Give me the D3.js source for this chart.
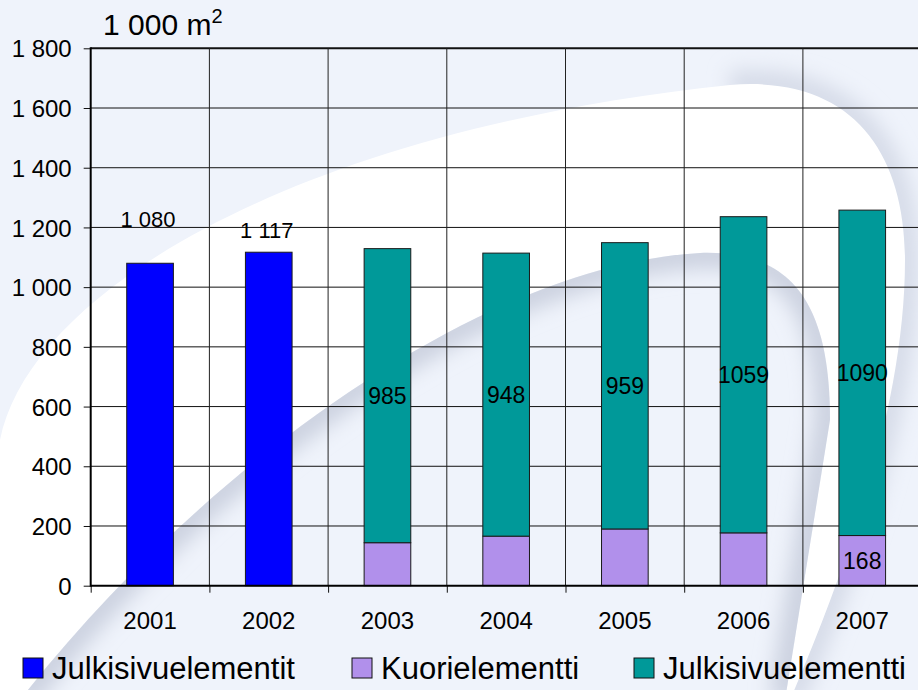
<!DOCTYPE html>
<html>
<head>
<meta charset="utf-8">
<script src="https://cdn.jsdelivr.net/npm/d3@7"></script>
<style>
  html, body { margin: 0; padding: 0; background: #eff3fb; }
  svg { display: block; font-family: "Liberation Sans", Arial, sans-serif; }
</style>
</head>
<body>
<div id="chart"></div>
<script>
// data (1 000 m2)
const years = ['2001', '2002', '2003', '2004', '2005', '2006', '2007'];
const julkisivuelementit = [1080, 1117, 0, 0, 0, 0, 0];
const kuorielementti = [0, 0, 144, 166, 190, 177, 168];
const julkisivuelementti = [0, 0, 985, 948, 959, 1059, 1090];
const kuoriLabelShown = [false, false, false, false, false, false, true];
const yTicks = [0, 200, 400, 600, 800, 1000, 1200, 1400, 1600, 1800];
const legendNames = ['Julkisivuelementit', 'Kuorielementti', 'Julkisivuelementti'];
const colors = ['#0000ff', '#b190eb', '#009999'];

const width = 918;
const height = 690;
const fmt = d3.formatLocale({ decimal: ',', thousands: ' ', grouping: [3] }).format(',d');

const svg = d3.select('#chart').append('svg')
    .attr('width', width)
    .attr('height', height);

// background swoosh
const defs = svg.append('defs');
defs.append('filter').attr('id', 'soft')
    .attr('x', '-20%').attr('y', '-20%').attr('width', '140%').attr('height', '140%')
    .append('feGaussianBlur').attr('stdDeviation', 10);
const innerEdge = 'M20,700 C200,470 480,265 700,253 C790,250 830,300 830,420 L785,700';
const outerRight = 'M730,85 C850,75 905,150 905,260 C905,400 850,560 790,700';
defs.append('clipPath').attr('id', 'innerClip').append('path').attr('d', innerEdge + ' Z');

svg.append('rect').attr('width', width).attr('height', height).attr('fill', '#eff3fb');
svg.append('path')
    .attr('d', outerRight)
    .attr('fill', 'none').attr('stroke', '#d6dbe8').attr('stroke-width', 28)
    .attr('filter', 'url(#soft)');
svg.append('path')
    .attr('d', 'M0,440 C30,290 300,130 730,85 C850,75 905,150 905,260 C905,400 850,560 790,700 L-20,700 L-20,440 Z')
    .attr('fill', '#ffffff');
svg.append('path').attr('d', innerEdge + ' Z').attr('fill', '#eff3fb');
svg.append('g').attr('clip-path', 'url(#innerClip)')
    .append('path')
    .attr('d', innerEdge)
    .attr('fill', 'none').attr('stroke', '#ccd2e0').attr('stroke-width', 32)
    .attr('filter', 'url(#soft)');

// scales
const x = d3.scaleBand().domain(years).range([90.7, 921.6]);
const y = d3.scaleLinear().domain([0, 1800]).range([585.7, 48.3]);
const xEdge = d3.scaleLinear().domain([0, years.length]).range(x.range());
const barW = x.bandwidth() * 0.393;

// grid
svg.append('g').selectAll('line')
    .data(yTicks.slice(1))
    .join('line')
    .attr('x1', x.range()[0]).attr('x2', width)
    .attr('y1', d => y(d)).attr('y2', d => y(d))
    .attr('stroke', '#111')
    .attr('stroke-width', d => d === 1800 ? 2 : 1);
svg.append('g').selectAll('line')
    .data(d3.range(1, years.length))
    .join('line')
    .attr('x1', d => xEdge(d)).attr('x2', d => xEdge(d))
    .attr('y1', y(1800)).attr('y2', y(0))
    .attr('stroke', '#222')
    .attr('stroke-width', 1);

// bars
const table = years.map((yr, i) => ({
    year: yr,
    a: julkisivuelementit[i],
    b: kuorielementti[i],
    c: julkisivuelementti[i]
}));
const series = d3.stack().keys(['a', 'b', 'c'])(table);

svg.append('g').selectAll('g')
    .data(series)
    .join('g')
    .attr('fill', (d, i) => colors[i])
    .selectAll('rect')
    .data(d => d.filter(p => p[1] - p[0] > 0))
    .join('rect')
    .attr('x', d => x(d.data.year) + (x.bandwidth() - barW) / 2)
    .attr('width', barW)
    .attr('y', d => y(d[1]))
    .attr('height', d => y(d[0]) - y(d[1]))
    .attr('stroke', '#1a1a1a')
    .attr('stroke-width', 1);

// axes
const yAxis = svg.append('g')
    .attr('transform', `translate(${x.range()[0]},0)`)
    .call(d3.axisLeft(y).tickValues(yTicks).tickSize(7).tickPadding(12).tickFormat(fmt));
const xAxis = svg.append('g')
    .attr('transform', `translate(0,${y(0)})`)
    .call(d3.axisBottom(xEdge).tickValues(d3.range(0, years.length + 1)).tickSize(7).tickFormat(''));
[yAxis, xAxis].forEach(ax => {
    ax.select('.domain').remove();
    ax.selectAll('.tick line').attr('stroke', '#111').attr('stroke-width', 1);
});
yAxis.selectAll('.tick text').attr('font-size', 24).attr('fill', '#000').attr('dy', '0.36em');
svg.append('line')
    .attr('x1', x.range()[0]).attr('x2', x.range()[0])
    .attr('y1', y(1800) - 1).attr('y2', y(0) + 1)
    .attr('stroke', '#000').attr('stroke-width', 2);
svg.append('line')
    .attr('x1', x.range()[0]).attr('x2', width)
    .attr('y1', y(0)).attr('y2', y(0))
    .attr('stroke', '#000').attr('stroke-width', 2);

svg.append('g').selectAll('text')
    .data(years)
    .join('text')
    .attr('x', d => x(d) + x.bandwidth() / 2)
    .attr('y', 629)
    .attr('text-anchor', 'middle')
    .attr('font-size', 24)
    .text(d => d);

// data labels
const blueDy = [-36, -14];
svg.append('g').selectAll('text')
    .data(table.filter(d => d.a > 0))
    .join('text')
    .attr('x', d => x(d.year) + x.bandwidth() / 2 - 2)
    .attr('y', (d, i) => y(d.a) + blueDy[i])
    .attr('text-anchor', 'middle')
    .attr('font-size', 22)
    .text(d => fmt(d.a));
svg.append('g').selectAll('text')
    .data(table.filter(d => d.c > 0))
    .join('text')
    .attr('x', d => x(d.year) + x.bandwidth() / 2)
    .attr('y', d => y(d.b + d.c / 2))
    .attr('dy', '0.36em')
    .attr('text-anchor', 'middle')
    .attr('font-size', 23)
    .text(d => d.c);
svg.append('g').selectAll('text')
    .data(table.filter((d, i) => kuoriLabelShown[i]))
    .join('text')
    .attr('x', d => x(d.year) + x.bandwidth() / 2)
    .attr('y', d => y(d.b / 2))
    .attr('dy', '0.36em')
    .attr('text-anchor', 'middle')
    .attr('font-size', 23)
    .text(d => d.b);

// unit title
const title = svg.append('text').attr('x', 103).attr('y', 35).attr('font-size', 30);
title.append('tspan').text('1 000 m');
title.append('tspan').attr('font-size', 20).attr('dy', -12).text('2');

// legend
const legendX = [23, 352, 634];
const legend = svg.append('g').selectAll('g')
    .data(legendNames)
    .join('g')
    .attr('transform', (d, i) => `translate(${legendX[i]},658)`);
legend.append('rect')
    .attr('width', 20).attr('height', 20)
    .attr('fill', (d, i) => colors[i])
    .attr('stroke', '#111').attr('stroke-width', 1);
legend.append('text')
    .attr('x', 29).attr('y', 21)
    .attr('font-size', 31)
    .text(d => d);
</script>
</body>
</html>
